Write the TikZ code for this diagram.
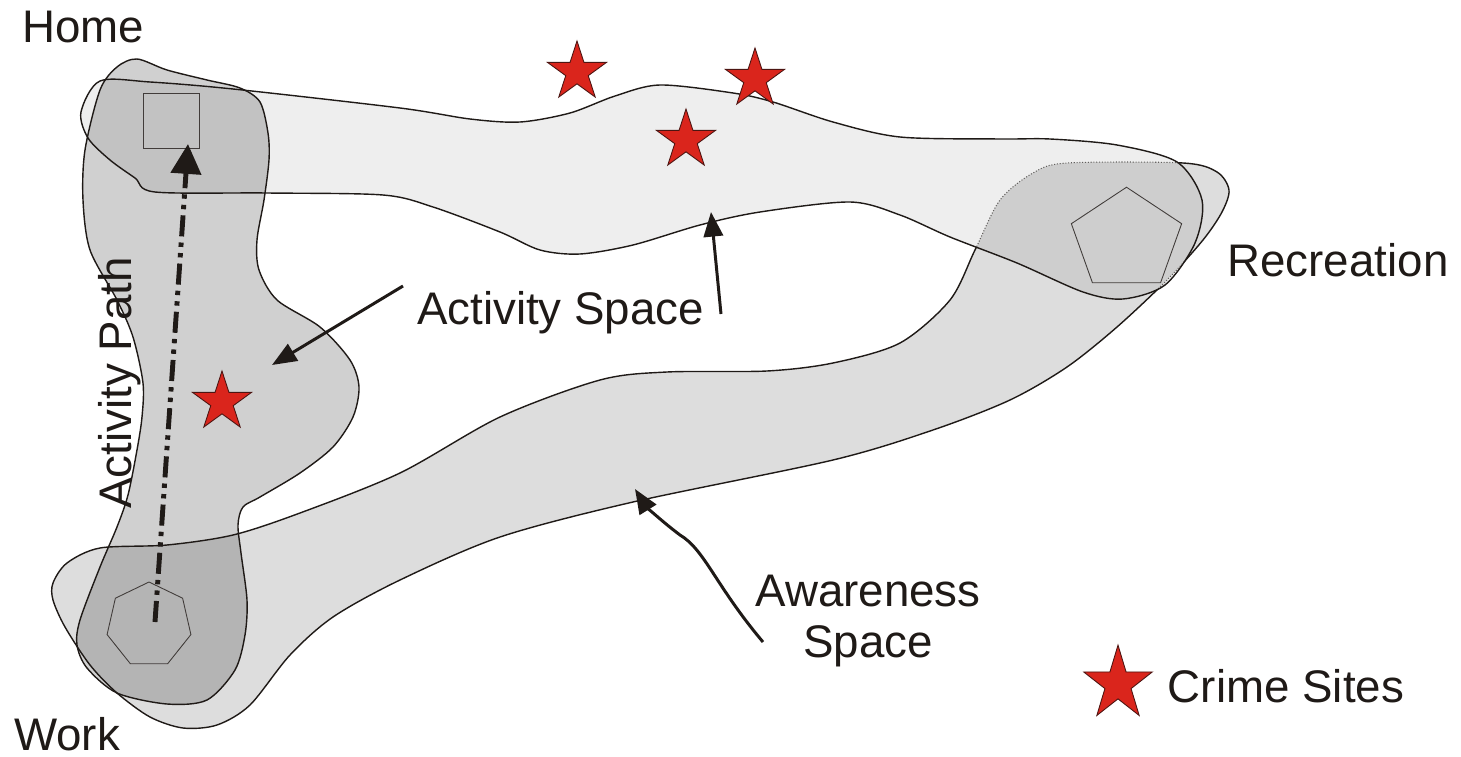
\documentclass[tikz,border=0pt]{standalone}
\usepackage{fontspec}
\setmainfont{Liberation Sans}
\usepackage{xcolor}
\definecolor{crimered}{HTML}{DA251C}
\definecolor{ink}{HTML}{1F1A17}
\usetikzlibrary{arrows.meta, shapes.geometric, positioning}

% outlines of the spaces, in pixel units of the picture
\newcommand{\actupper}{plot[smooth cycle] coordinates {
  (100,81) (150,82) (233,89) (400,108) (470,119) (520,122) (570,113)
  (615,96) (660,85) (733,93) (773,102) (833,122) (900,137) (1000,139)
  (1050,139) (1117,145) (1177,162) (1202,200) (1195,243) (1165,285)
  (1123,299) (1083,292) (1017,263) (950,237) (900,215) (850,202)
  (760,212) (700,225) (633,245) (580,254) (540,250) (500,232)
  (433,207) (383,195) (267,193) (155,192) (135,178) (110,160)
  (88,138) (81,112)}}
\newcommand{\actleft}{plot[smooth cycle] coordinates {
  (137,59) (167,70) (207,80) (240,88) (260,102) (268,133) (269,160)
  (264,200) (257,240) (259,270) (277,300) (320,327) (350,360)
  (359,387) (353,417) (333,447) (300,473) (260,497) (243,507)
  (238,525) (241,553) (247,600) (245,635) (235,670) (207,700)
  (167,704) (117,693) (87,668) (77,645) (80,620) (100,567)
  (117,527) (128,495) (137,450) (142,417) (143,383) (133,337)
  (117,300) (90,250) (83,200) (85,150) (100,90) (117,67)}}
\newcommand{\awareband}{plot[smooth cycle] coordinates {
  (100,548) (167,545) (233,535) (300,513) (400,473) (500,417)
  (600,380) (667,372) (767,371) (833,363) (900,343) (950,300)
  (975,250) (1000,200) (1033,173) (1067,163) (1183,163) (1217,172)
  (1229,190) (1222,212) (1203,240) (1167,280) (1117,327) (1067,367)
  (1010,400) (933,430) (833,460) (633,502) (500,537) (400,580)
  (333,617) (290,655) (250,705) (217,725) (183,728) (150,717)
  (117,693) (90,665) (65,627) (53,600) (53,583) (67,563)}}

\begin{document}
\begin{tikzpicture}[x=0.02cm, y=-0.02cm,
  space/.style={fill=black, fill opacity=#1},
  rim/.style={draw=ink, line width=0.8pt},
  marker/.style={draw=ink!85, line width=0.5pt, inner sep=0pt},
  site/.style={star, star points=5, star point ratio=2.618,
    draw=ink!80!red, fill=crimered, line width=0.5pt,
    minimum size=1.24cm, inner sep=0pt},
  label/.style={font=\fontsize{26}{30}\selectfont, text=ink, inner sep=0pt},
  pointer/.style={draw=ink, line width=1.7pt,
    -{Triangle[length=14pt, width=11pt]}}
]
  \useasboundingbox (0,0) rectangle (1461,757);

  % shaded spaces
  \fill[space=0.067] \actupper;
  \fill[space=0.133] \awareband;
  \fill[space=0.184] \actleft;

  % awareness outline, dotted where it runs under the upper band
  \begin{scope}
    \clip \actupper;
    \draw[ink!70, line width=0.6pt, densely dotted] \awareband;
  \end{scope}
  \begin{scope}[even odd rule]
    \clip (0,0) rectangle (1461,757) \actupper;
    \draw[rim] \awareband;
  \end{scope}
  \draw[rim] \actupper;
  \draw[rim] \actleft;

  % places
  \node[marker, rectangle, minimum width=1.12cm, minimum height=1.1cm]
    (home) at (171,120.5) {};
  \node[marker, regular polygon, regular polygon sides=7, minimum size=1.72cm]
    (work) at (149,625) {};
  \node[marker, regular polygon, regular polygon sides=5, minimum size=2.32cm,
    yscale=0.91] (recreation) at (1126.5,240) {};

  % crime sites
  \node[site] (crimeA) at (577,72) {};
  \node[site] (crimeB) at (755,79) {};
  \node[site] (crimeC) at (686,140) {};
  \node[site] (crimeD) at (222,402) {};
  \node[site, minimum size=1.44cm, yscale=1.08] (legendstar) at (1118,684) {};

  % labels
  \node[label, anchor=base] (homelabel) at (83,43) {Home};
  \node[label, anchor=base] (worklabel) at (67,750) {Work};
  \node[label, anchor=base] (reclabel) at (1338,276) {Recreation};
  \node[label, anchor=base] (actlabel) at (560.5,324) {Activity Space};
  \node[label, align=center, font=\fontsize{26}{29}\selectfont]
    (awarelabel) at (868,621) {Awareness\\Space};
  \node[label, anchor=base] (legendlabel) at (1286,702) {Crime Sites};
  \node[label, anchor=base, rotate=90] (pathlabel) at (131,383) {Activity Path};

  % arrows
  \coordinate (pathstart) at (155,622);
  \coordinate (pathend) at (188,144);
  \draw[draw=ink, line width=2.8pt,
    dash pattern=on 12pt off 3.5pt on 2.5pt off 3.5pt on 2.5pt off 3.5pt,
    -{Triangle[length=17pt, width=17pt]}] (pathstart) -- (pathend);

  \coordinate (acttailA) at (403,286);
  \coordinate (acttipA) at (272,365);
  \coordinate (acttailB) at (721,314);
  \coordinate (acttipB) at (711,212);
  \draw[pointer] (acttailA) -- (acttipA);
  \draw[pointer] (acttailB) -- (acttipB);

  \coordinate (awaretail) at (763,642);
  \coordinate (awaretip) at (635,489);
  \draw[pointer] (awaretail) .. controls (715,585) and (705,550) .. (680,535)
    .. controls (660,520) and (645,505) .. (awaretip);
\end{tikzpicture}
\end{document}
